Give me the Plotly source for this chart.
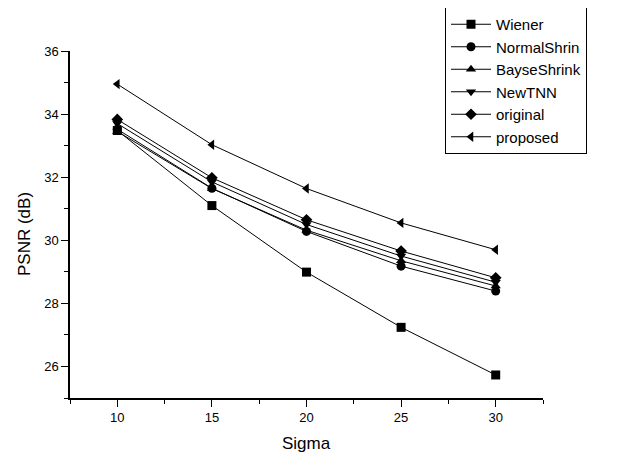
import plotly.graph_objects as go

sigma = [10, 15, 20, 25, 30]
wiener = [33.48, 31.10, 28.99, 27.24, 25.73]
normal_shrink = [33.52, 31.65, 30.28, 29.18, 28.39]
bayes_shrink = [33.45, 31.64, 30.32, 29.35, 28.55]
new_tnn = [33.70, 31.85, 30.50, 29.50, 28.67]
original = [33.83, 31.98, 30.65, 29.66, 28.81]
proposed = [34.95, 33.03, 31.64, 30.55, 29.70]

series = [
    ("Wiener", wiener, "square"),
    ("NormalShrin", normal_shrink, "circle"),
    ("BayseShrink", bayes_shrink, "triangle-up"),
    ("NewTNN", new_tnn, "triangle-down"),
    ("original", original, "diamond"),
    ("proposed", proposed, "triangle-left"),
]

FONT = "Liberation Sans, Arial"
OFF = 8  # page body margin
W, H = 624 - OFF, 455 - OFF
L, T = 70 - OFF, 51 - OFF
PW, PH = 543 - 70, 398 - 51
R, B = W - L - PW, H - T - PH

def px_x(p):
    return (p - OFF - L) / PW

def px_y(p):
    return 1 - (p - OFF - T) / PH

fig = go.Figure()
for name, vals, sym in series:
    fig.add_trace(go.Scatter(
        x=sigma, y=vals, name=name, mode="lines+markers",
        line=dict(color="black", width=1),
        marker=dict(symbol=sym, size=9, color="black"),
    ))

def axis(rng, major, minor):
    return dict(
        range=rng, tickvals=major,
        showgrid=False, zeroline=False, showline=True, linecolor="black", linewidth=1.5,
        ticks="outside", ticklen=7, tickwidth=1.2, tickcolor="black",
        tickfont=dict(family=FONT, size=13, color="black"),
        minor=dict(ticks="outside", ticklen=4, tickwidth=1.2, tickcolor="black", tickvals=minor),
    )

fig.update_layout(
    width=W, height=H,
    margin=dict(l=L, r=R, t=T, b=B, autoexpand=False),
    paper_bgcolor="white", plot_bgcolor="white",
    font=dict(family=FONT, color="black"),
    xaxis=axis([7.5, 32.5], [10, 15, 20, 25, 30], [7.5, 12.5, 17.5, 22.5, 27.5, 32.5]),
    yaxis=axis([25, 36], [26, 28, 30, 32, 34, 36], [25, 27, 29, 31, 33, 35]),
    legend=dict(
        x=px_x(445), y=px_y(7),
        xanchor="left", yanchor="top",
        bordercolor="black", borderwidth=1, bgcolor="white",
        font=dict(family=FONT, size=15, color="black"),
        tracegroupgap=0, itemwidth=40,
    ),
    showlegend=True,
    annotations=[
        dict(text="Sigma", x=px_x(306.5), y=px_y(443),
             xref="paper", yref="paper", showarrow=False, xanchor="center", yanchor="middle",
             font=dict(family=FONT, size=17, color="black")),
        dict(text="PSNR (dB)", x=px_x(24), y=px_y(234),
             xref="paper", yref="paper", showarrow=False, xanchor="center", yanchor="middle",
             textangle=-90, font=dict(family=FONT, size=17, color="black")),
    ],
)

fig.write_html("out.html")
